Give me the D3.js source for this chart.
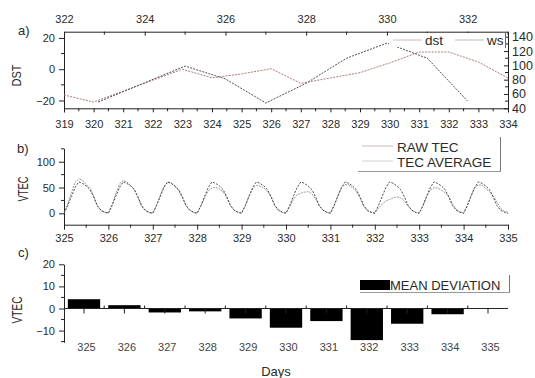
<!DOCTYPE html>
<html>
<head>
<meta charset="utf-8">
<script src="https://cdn.jsdelivr.net/npm/d3@7"></script>
<style>
  body { margin: 0; background: #fff; }
  svg { display: block; }
  text { font-family: "Liberation Sans", Arial, sans-serif; fill: #2a2a2a; }
  .domain { stroke: #222; }
  .tick line { stroke: #222; }
</style>
</head>
<body>
<svg id="chart" width="535" height="378"></svg>
<script>
// ---- data ----
// panel a: Dst index (bottom/left axes) and wind speed (top/right axes)
const dstDays   = [319, 320, 321, 322, 323, 324, 325, 326, 327, 328, 329, 330, 331, 332, 333, 334];
const dstValues = [-16.5, -21, -14, -7, 0, -5.5, -3, 0.3, -9, -5.6, -2.2, 4, 11, 11, 4.6, -5.6];
const wsDays    = [322.85, 325, 326, 327, 328, 329, 330, 331, 332];
const wsValues  = [48.8, 99, 81, 47.4, 75, 110, 131, 110, 50];

// panel b: VTEC every 2 hours, days 325..335
const tecStartDay = 325;
const tecStepHours = 2;
const tecRaw = [
  0, 18, 40, 60, 67, 64, 55, 50, 34, 14, 5, 2,
  1, 17, 38, 57, 64, 61, 54, 46, 30, 13, 5, 1,
  1, 15, 34, 52, 60, 59, 52, 44, 30, 14, 6, 2,
  1, 14, 30, 44, 49, 51, 47, 42, 30, 15, 6, 2,
  1, 15, 33, 48, 54, 53, 49, 43, 31, 15, 6, 2,
  1, 13, 27, 36, 39, 41, 42, 38, 28, 14, 6, 2,
  1, 15, 34, 50, 56, 55, 49, 42, 30, 14, 5, 2,
  1, 10, 18, 24, 27, 30, 32, 30, 24, 14, 6, 2,
  1, 14, 32, 45, 50, 49, 45, 40, 32, 18, 8, 3,
  1, 15, 34, 50, 55, 54, 48, 42, 34, 22, 10, 4,
  2
];
const tecAverage = [
  0, 15, 33, 50, 61, 58, 53, 46, 32, 15, 6, 2,
  0, 15, 33, 50, 61, 58, 53, 46, 32, 15, 6, 2,
  0, 15, 33, 50, 61, 58, 53, 46, 32, 15, 6, 2,
  0, 15, 33, 50, 61, 58, 53, 46, 32, 15, 6, 2,
  0, 15, 33, 50, 61, 58, 53, 46, 32, 15, 6, 2,
  0, 15, 33, 50, 61, 58, 53, 46, 32, 15, 6, 2,
  0, 15, 33, 50, 61, 58, 53, 46, 32, 15, 6, 2,
  0, 15, 33, 50, 61, 58, 53, 46, 32, 15, 6, 2,
  0, 15, 33, 50, 61, 58, 53, 46, 32, 15, 6, 2,
  0, 15, 33, 50, 61, 58, 53, 46, 32, 15, 6, 2,
  0
];

// panel c: mean deviation per day
const devDays   = [325, 326, 327, 328, 329, 330, 331, 332, 333, 334, 335];
const devValues = [4.2, 1.5, -1.8, -1.3, -4.5, -8.7, -5.7, -14.3, -6.9, -2.6, 0];

const svg = d3.select("#chart");

// axis call + font size for its labels
function drawAxis(g, axis, fontSize) {
  g.call(axis);
  g.selectAll("text").style("font-size", fontSize + "px");
  return g;
}

// ================= panel a =================
const xA    = d3.scaleLinear().domain([319, 334]).range([64, 508]);
const xATop = d3.scaleLinear().domain([322, 333]).range([64, 508]);
const yA    = d3.scaleLinear().domain([-25, 24]).range([108.3, 31.7]);
const yAR   = d3.scaleLinear().domain([40, 147]).range([108.3, 31.7]);

const ga = svg.append("g");
const gaBottom = ga.append("g").attr("transform", "translate(0,108.3)");
drawAxis(gaBottom, d3.axisBottom(xA).tickValues(dstDays).tickFormat(d3.format("d")).tickSize(4).tickPadding(8), 11);
gaBottom.selectAll(null).data(d3.range(319.5, 334, 1)).join("line")
  .attr("stroke", "#222").attr("x1", d => xA(d)).attr("x2", d => xA(d)).attr("y1", 0).attr("y2", 3);

const gaTop = ga.append("g").attr("transform", "translate(0,31.7)");
drawAxis(gaTop, d3.axisTop(xATop).tickValues([322, 324, 326, 328, 330, 332]).tickFormat(d3.format("d")).tickSize(-4).tickPadding(9), 11);
gaTop.selectAll(null).data([323, 325, 327, 329, 331, 333]).join("line")
  .attr("stroke", "#222").attr("x1", d => xATop(d)).attr("x2", d => xATop(d)).attr("y1", 0).attr("y2", 3);

const gaLeft = ga.append("g").attr("transform", "translate(64,0)");
drawAxis(gaLeft, d3.axisLeft(yA).tickValues([-20, 0, 20]).tickSize(5).tickPadding(4).tickSizeOuter(0), 11);
gaLeft.selectAll(null).data([-10, 10]).join("line")
  .attr("stroke", "#222").attr("x1", 0).attr("x2", -3).attr("y1", d => yA(d)).attr("y2", d => yA(d));

const gaRight = ga.append("g").attr("transform", "translate(508,0)");
drawAxis(gaRight, d3.axisRight(yAR).tickValues([40, 60, 80, 100, 120, 140]).tickSize(-4).tickPadding(4).tickSizeOuter(0), 12.5);
gaRight.selectAll(null).data([50, 70, 90, 110, 130]).join("line")
  .attr("stroke", "#222").attr("x1", 0).attr("x2", -3).attr("y1", d => yAR(d)).attr("y2", d => yAR(d));

const dstLine = d3.line().x((d, i) => xA(dstDays[i])).y(d => yA(d));
const wsLine  = d3.line().x((d, i) => xATop(wsDays[i])).y(d => yAR(d));
ga.append("path").datum(dstValues).attr("d", dstLine)
  .attr("fill", "none").attr("stroke", "#b07a78").attr("stroke-width", 1).attr("stroke-dasharray", "2,1.2");
ga.append("path").datum(wsValues).attr("d", wsLine)
  .attr("fill", "none").attr("stroke", "#50505a").attr("stroke-width", 1).attr("stroke-dasharray", "2,1.2");

// legend a
const la = ga.append("g");
la.append("rect").attr("x", 389).attr("y", 33).attr("width", 117).attr("height", 14).attr("fill", "#fff");
la.append("line").attr("x1", 393).attr("x2", 422).attr("y1", 40).attr("y2", 40).attr("stroke", "#cdbaba");
la.append("text").attr("x", 425).attr("y", 45).style("font-size", "13.5px").text("dst");
la.append("line").attr("x1", 455).attr("x2", 484).attr("y1", 40).attr("y2", 40).attr("stroke", "#bdbdbd");
la.append("text").attr("x", 487).attr("y", 45).style("font-size", "13.5px").text("ws");
la.append("line").attr("x1", 505.5).attr("x2", 505.5).attr("y1", 33).attr("y2", 48).attr("stroke", "#666");

svg.append("text").attr("x", 18).attr("y", 35).style("font-size", "13px").text("a)");
svg.append("text").attr("transform", "translate(21,75.5) rotate(-90)").attr("text-anchor", "middle")
  .attr("textLength", 22).attr("lengthAdjust", "spacingAndGlyphs").style("font-size", "13.5px").text("DST");

// ================= panel b =================
const xB = d3.scaleLinear().domain([325, 335]).range([64, 508]);
const yB = d3.scaleLinear().domain([-22, 126]).range([224.7, 148.3]);
const tecX = i => xB(tecStartDay + i * tecStepHours / 24);

const gb = svg.append("g");
const gbBottom = gb.append("g").attr("transform", "translate(0,224.7)");
drawAxis(gbBottom, d3.axisBottom(xB).tickValues(devDays).tickFormat(d3.format("d")).tickSize(5).tickPadding(5).tickSizeOuter(0), 11);
gbBottom.selectAll(null).data(d3.range(325.5, 335, 1)).join("line")
  .attr("stroke", "#222").attr("x1", d => xB(d)).attr("x2", d => xB(d)).attr("y1", 0).attr("y2", 3);

const gbLeft = gb.append("g").attr("transform", "translate(64,0)");
drawAxis(gbLeft, d3.axisLeft(yB).tickValues([0, 50, 100]).tickSize(5).tickPadding(4).tickSizeOuter(0), 11);
gbLeft.selectAll(null).data([25, 75, 125]).join("line")
  .attr("stroke", "#222").attr("x1", 0).attr("x2", -3).attr("y1", d => yB(d)).attr("y2", d => yB(d));

const tecLine = d3.line().x((d, i) => tecX(i)).y(d => yB(d));
gb.append("path").datum(tecRaw).attr("d", tecLine)
  .attr("fill", "none").attr("stroke", "#9a9a9a").attr("stroke-width", 1).attr("stroke-dasharray", "2,1");
gb.append("path").datum(tecAverage).attr("d", tecLine)
  .attr("fill", "none").attr("stroke", "#333").attr("stroke-width", 0.9).attr("stroke-dasharray", "2,1.5");

// legend b
const lb = gb.append("g");
lb.append("line").attr("x1", 362).attr("x2", 393).attr("y1", 146).attr("y2", 146).attr("stroke", "#c8bcbc");
lb.append("text").attr("x", 397).attr("y", 151.5).style("font-size", "13.5px").text("RAW TEC");
lb.append("line").attr("x1", 362).attr("x2", 393).attr("y1", 161).attr("y2", 161).attr("stroke", "#d2d2d2");
lb.append("text").attr("x", 397).attr("y", 167).style("font-size", "13.5px").text("TEC AVERAGE");
lb.append("line").attr("x1", 500.5).attr("x2", 500.5).attr("y1", 137).attr("y2", 172).attr("stroke", "#777");
lb.append("line").attr("x1", 358).attr("x2", 501).attr("y1", 171.5).attr("y2", 171.5).attr("stroke", "#999");

svg.append("text").attr("x", 17).attr("y", 153).style("font-size", "13px").text("b)");
svg.append("text").attr("transform", "translate(28,189) rotate(-90)").attr("text-anchor", "middle")
  .attr("textLength", 25).attr("lengthAdjust", "spacingAndGlyphs").style("font-size", "14px").text("VTEC");

// ================= panel c =================
const xC = d3.scaleBand().domain(devDays).range([63.8, 508.2]).paddingInner(0.2).paddingOuter(0.1);
const yC = d3.scaleLinear().domain([-15.3, 20]).range([342.3, 264.3]);

const gc = svg.append("g");
gc.selectAll("rect.bar").data(devValues).join("rect")
  .attr("class", "bar")
  .attr("x", (d, i) => xC(devDays[i]))
  .attr("width", xC.bandwidth())
  .attr("y", d => yC(Math.max(0, d)))
  .attr("height", d => Math.abs(yC(d) - yC(0)))
  .attr("fill", "#000");

const gcLeft = gc.append("g").attr("transform", "translate(64,0)");
drawAxis(gcLeft, d3.axisLeft(yC).tickValues([-10, 0, 10, 20]).tickSize(5).tickPadding(4).tickSizeOuter(0), 11);
gcLeft.selectAll(null).data([-15, -5, 5, 15]).join("line")
  .attr("stroke", "#222").attr("x1", 0).attr("x2", -3).attr("y1", d => yC(d)).attr("y2", d => yC(d));

const gcBottom = gc.append("g").attr("transform", `translate(0,${yC(0)})`);
gcBottom.append("line").attr("x1", 64).attr("x2", 508).attr("y1", 0).attr("y2", 0).attr("stroke", "#222");
gcBottom.selectAll("line.maj").data(devDays).join("line").attr("class", "maj")
  .attr("stroke", "#222").attr("x1", d => xC(d) + xC.bandwidth() / 2).attr("x2", d => xC(d) + xC.bandwidth() / 2)
  .attr("y1", 0).attr("y2", 5);
gcBottom.selectAll("line.mnr").data(devDays.slice(1)).join("line").attr("class", "mnr")
  .attr("stroke", "#222").attr("x1", d => xC(d) - xC.step() * 0.1).attr("x2", d => xC(d) - xC.step() * 0.1)
  .attr("y1", 0).attr("y2", -3);
gc.selectAll("text.xl").data(devDays).join("text").attr("class", "xl")
  .attr("x", d => xC(d) + xC.bandwidth() / 2 + 2.5).attr("y", 351)
  .attr("text-anchor", "middle").style("font-size", "11px").style("fill", "#444").text(d => d);

// legend c
const lc = gc.append("g");
lc.append("rect").attr("x", 360).attr("y", 280).attr("width", 30).attr("height", 10).attr("fill", "#000");
lc.append("text").attr("x", 390).attr("y", 290).style("font-size", "13px").text("MEAN DEVIATION");
lc.append("line").attr("x1", 509.5).attr("x2", 509.5).attr("y1", 275).attr("y2", 293).attr("stroke", "#777");
lc.append("line").attr("x1", 360).attr("x2", 510).attr("y1", 292.5).attr("y2", 292.5).attr("stroke", "#999");

svg.append("text").attr("x", 18).attr("y", 257).style("font-size", "13px").text("c)");
svg.append("text").attr("transform", "translate(21.7,310) rotate(-90)").attr("text-anchor", "middle")
  .attr("textLength", 27).attr("lengthAdjust", "spacingAndGlyphs").style("font-size", "14px").text("VTEC");

svg.append("text").attr("x", 276).attr("y", 376).attr("text-anchor", "middle")
  .style("font-size", "13px").text("Days");
</script>
</body>
</html>
